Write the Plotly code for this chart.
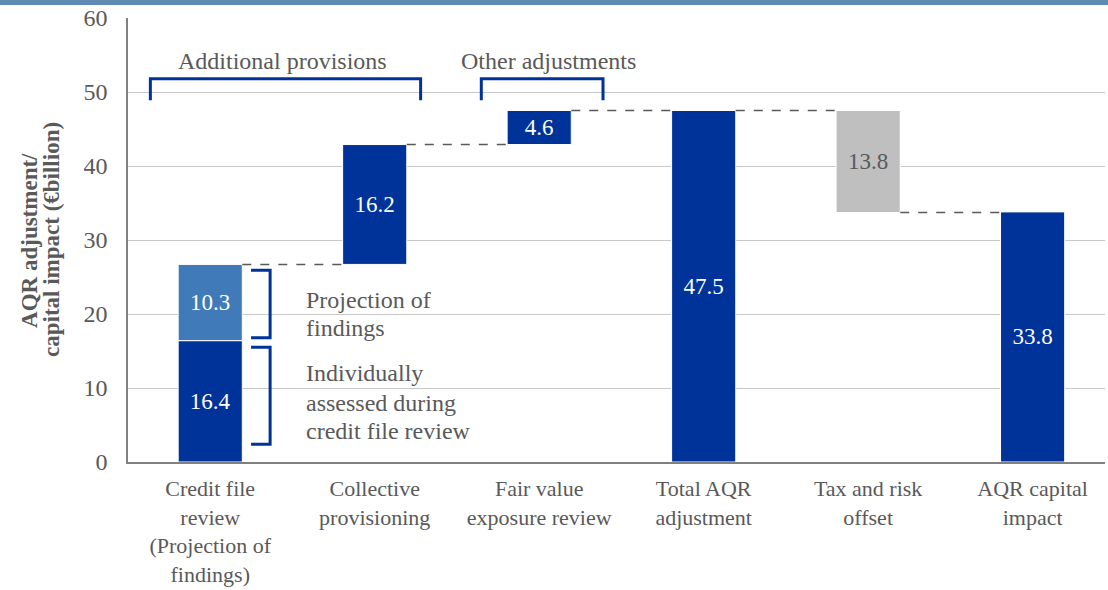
import plotly.graph_objects as go

# ---- data ----
categories = ["Credit file<br>review<br>(Projection of<br>findings)", "Collective<br>provisioning",
              "Fair value<br>exposure review", "Total AQR<br>adjustment", "Tax and risk<br>offset",
              "AQR capital<br>impact"]
individually_assessed = 16.4
projection_of_findings = 10.3
collective_provisioning = 16.2
fair_value_review = 4.6
total_aqr = 47.5
tax_risk_offset = 13.8
capital_impact = 33.8

DARK = "#003399"
LIGHT = "#417ab8"
GREY = "#bfbfbf"
TXT = "#595959"
FONT = "Liberation Serif"
W = 0.39

credit_top = individually_assessed + projection_of_findings
coll_top = credit_top + collective_provisioning
offset_base = total_aqr - tax_risk_offset

fig = go.Figure()
fig.add_trace(go.Bar(
    x=[0, 1, 2, 3, 5],
    y=[individually_assessed, collective_provisioning, fair_value_review, total_aqr, capital_impact],
    base=[0, credit_top, coll_top, 0, 0],
    width=W, marker=dict(color=DARK, line=dict(color="white", width=1)),
    text=[f"{v:.1f}" for v in [individually_assessed, collective_provisioning, fair_value_review, total_aqr, capital_impact]],
    textposition="inside", insidetextanchor="middle",
    textfont=dict(color="white", size=23, family=FONT), hoverinfo="skip", showlegend=False))
fig.add_trace(go.Bar(
    x=[0], y=[projection_of_findings], base=[individually_assessed], width=W,
    marker=dict(color=LIGHT, line=dict(color="white", width=1)),
    text=[f"{projection_of_findings:.1f}"], textposition="inside", insidetextanchor="middle",
    textfont=dict(color="white", size=23, family=FONT), hoverinfo="skip", showlegend=False))
fig.add_trace(go.Bar(
    x=[4], y=[tax_risk_offset], base=[offset_base], width=W,
    marker=dict(color=GREY, line=dict(color="white", width=1)),
    text=[f"{tax_risk_offset:.1f}"], textposition="inside", insidetextanchor="middle",
    textfont=dict(color=TXT, size=23, family=FONT), hoverinfo="skip", showlegend=False))

shapes = []
# connectors
connectors = [(0, 1, credit_top), (1, 2, coll_top), (2, 3, total_aqr), (3, 4, total_aqr), (4, 5, offset_base)]
for a, b, lvl in connectors:
    shapes.append(dict(type="line", xref="x", yref="y", x0=a + W / 2, x1=b - W / 2, y0=lvl, y1=lvl,
                       line=dict(color=TXT, width=1.5, dash="dash")))

BR = dict(color=DARK, width=3)
# big brackets
for x0, x1 in [(-0.364, 1.279), (1.648, 2.388)]:
    shapes.append(dict(type="path", xref="x", yref="y",
                       path=f"M {x0},48.9 L {x0},51.8 L {x1},51.8 L {x1},48.9", line=BR))
# small brackets
for ytop, ybot in [(25.9, 16.8), (15.5, 2.4)]:
    shapes.append(dict(type="path", xref="x", yref="y",
                       path=f"M 0.248,{ytop} L 0.364,{ytop} L 0.364,{ybot} L 0.248,{ybot}", line=BR))
# top band
shapes.append(dict(type="rect", xref="paper", yref="paper", x0=-0.2, x1=1.1, y0=1.029, y1=1.045,
                   fillcolor="#5f8ab3", line=dict(width=0), layer="above"))

ann = [
    dict(x=0.442, y=54.2, text="Additional provisions", xanchor="center"),
    dict(x=2.055, y=54.2, text="Other adjustments", xanchor="center"),
]
note_lines = [("Projection of", 21.9), ("findings", 18.1),
              ("Individually", 12.0), ("assessed during", 8.0), ("credit file review", 4.2)]
for t, yv in note_lines:
    ann.append(dict(x=0.572, y=yv, text=t, xanchor="left"))
for a in ann:
    a.update(xref="x", yref="y", showarrow=False, yanchor="middle",
             font=dict(family=FONT, size=24, color=TXT))
for t, xp in [("AQR adjustment/", -0.1014), ("capital impact (€billion)", -0.0788)]:
    ann.append(dict(xref="paper", yref="paper", x=xp, y=0.5, textangle=-90, showarrow=False,
                    text=f"<b>{t}</b>", font=dict(family=FONT, size=23, color=TXT),
                    xanchor="center", yanchor="middle"))

fig.update_layout(
    width=1108, height=590, margin=dict(l=128, r=3, t=18, b=128),
    paper_bgcolor="white", plot_bgcolor="white", barmode="overlay",
    shapes=shapes, annotations=ann, font=dict(family=FONT, size=22, color=TXT),
    xaxis=dict(range=[-0.5, 5.44], tickvals=list(range(6)), ticktext=categories, showline=True,
               linecolor="#808080", linewidth=1.5, showgrid=False, zeroline=False, ticks="",
               automargin=False, ticklabelstandoff=6,
               tickfont=dict(family=FONT, size=22, color=TXT), fixedrange=True),
    yaxis=dict(range=[0, 60], dtick=10, showline=True, linecolor="#808080", linewidth=1.5,
               gridcolor="#c8c8c8", gridwidth=1, zeroline=False, ticks="", ticklabelstandoff=14,
               automargin=False,
               tickfont=dict(family=FONT, size=24, color=TXT), fixedrange=True),
)
fig.write_html("out.html", config={"displayModeBar": False},
               post_script="document.body.style.margin='0';")
